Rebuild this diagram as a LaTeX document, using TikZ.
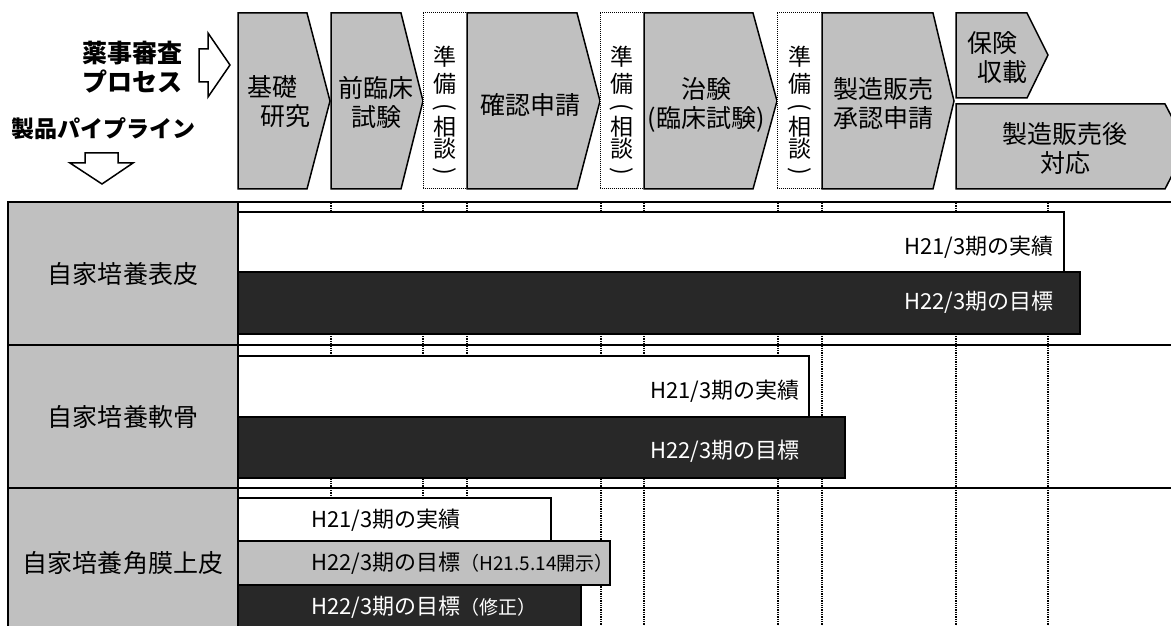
\documentclass[tikz,border=0pt]{standalone}
\usepackage{fontspec}
\usepackage{graphicx}
\setmainfont{Noto Sans CJK JP}
\definecolor{cellgray}{RGB}{192,192,192}
\definecolor{darkbar}{RGB}{40,40,40}
\newcommand{\hdfont}{\fontsize{25bp}{29bp}\selectfont}
\newcommand{\vtfont}{\fontsize{23bp}{21bp}\selectfont}
\newcommand{\barfont}{\fontsize{22bp}{24bp}\selectfont}
\newcommand{\smfont}{\fontsize{19bp}{21bp}\selectfont}
\newcommand{\vparen}[1]{\rotatebox[origin=c]{-90}{#1}}
\newcommand{\prepword}{準\\[5bp]備\\[1bp]\vparen{(}\\相\\談\\\vparen{)}}
\tikzset{
  stage/.style={draw, fill=cellgray, line width=1.5bp},
  prepbox/.style={draw, densely dotted, fill=white, line width=1bp},
  gridline/.style={densely dotted, line width=1.3bp},
  rowline/.style={line width=2bp},
  cell/.style={draw, fill=cellgray, line width=1.2bp},
  barw/.style={draw, fill=white, line width=1.3bp},
  barg/.style={draw, fill=cellgray, line width=1.3bp},
  bard/.style={draw, fill=darkbar, line width=1.3bp},
  hollow/.style={draw, fill=white, line width=1.5bp},
  txt/.style={inner sep=0pt, font=\hdfont, align=center},
  vtxt/.style={inner sep=0pt, font=\vtfont, align=center},
  btxt/.style={inner sep=0pt, font=\barfont},
}
\begin{document}
\begin{tikzpicture}[x=1bp, y=-1bp]
  \useasboundingbox (0,0) rectangle (1171,626);
  % phase grid
  \foreach \gx in {331,423,467,601,644,778,822,956,1048}
    \draw[gridline] (\gx,203) -- (\gx,626);
  \draw[rowline] (8,202) -- (1171,202);
  \draw[rowline] (8,345) -- (1171,345);
  \draw[rowline] (8,488) -- (1171,488);
  % product cells
  \draw[cell] (8,202) rectangle (238,345);
  \draw[cell] (8,345) rectangle (238,488);
  \draw[cell] (8,488) rectangle (238,632);
  \node[txt] (epi) at (123,274) {自家培養表皮};
  \node[txt] (cart) at (123,417) {自家培養軟骨};
  \node[txt] (cornea) at (123,563) {自家培養角膜上皮};
  % bars
  \draw[barw] (238,212) rectangle (1064,272);
  \draw[bard] (238,272) rectangle (1080,334);
  \draw[barw] (238,356) rectangle (809,417);
  \draw[bard] (238,417) rectangle (845,478);
  \draw[barw] (238,498) rectangle (551,541);
  \draw[barg] (238,541) rectangle (610,585);
  \draw[bard] (238,585) rectangle (581,632);
  \node[btxt, anchor=east] (epiA) at (1054,247) {H21/3期の実績};
  \node[btxt, anchor=east, text=white] (epiB) at (1054,302) {H22/3期の目標};
  \node[btxt, anchor=east] (cartA) at (800,391) {H21/3期の実績};
  \node[btxt, anchor=east, text=white] (cartB) at (800,451) {H22/3期の目標};
  \node[btxt, anchor=west] (corA) at (311,520) {H21/3期の実績};
  \node[btxt, anchor=west] (corB) at (311,563) {H22/3期の目標{\smfont （H21.5.14開示）}};
  \node[btxt, anchor=west, text=white] (corC) at (311,607) {H22/3期の目標{\smfont （修正）}};
  % process header
  \draw[stage] (238,13) -- (307,13) -- (330,101) -- (307,189) -- (238,189) -- cycle;
  \draw[stage] (331,13) -- (401,13) -- (423,101) -- (401,189) -- (331,189) -- cycle;
  \draw[prepbox] (423,13) rectangle (467,189);
  \draw[stage] (467,13) -- (577,13) -- (600,101) -- (577,189) -- (467,189) -- cycle;
  \draw[prepbox] (600,13) rectangle (644,189);
  \draw[stage] (644,13) -- (753,13) -- (777,101) -- (753,189) -- (644,189) -- cycle;
  \draw[prepbox] (777,13) rectangle (822,189);
  \draw[stage] (822,13) -- (933,13) -- (954,101) -- (933,189) -- (822,189) -- cycle;
  \draw[stage] (956,13) -- (1027,13) -- (1048,55) -- (1027,98) -- (956,98) -- cycle;
  \draw[stage] (956,104) -- (1165,104) -- (1187,146) -- (1165,189) -- (956,189) -- cycle;
  \node[txt, align=left, anchor=west] (basic) at (247,102) {基礎\\\hspace*{13bp}研究};
  \node[txt] (preclin) at (376,102) {前臨床\\試験};
  \node[vtxt] (prepA) at (445,112) {\prepword};
  \node[txt] (confirm) at (530,105) {確認申請};
  \node[vtxt] (prepB) at (622,112) {\prepword};
  \node[txt] (trial) at (706,105) {治験\\(臨床試験)};
  \node[vtxt] (prepC) at (800,112) {\prepword};
  \node[txt] (approval) at (883,104) {製造販売\\承認申請};
  \node[txt, align=left, anchor=west] (listing) at (967,58) {保険\\\hspace*{10bp}収載};
  \node[txt] (postmkt) at (1065,149) {製造販売後\\対応};
  % legend arrows
  \node[txt, font=\hdfont\bfseries] (review) at (132,67) {薬事審査\\プロセス};
  \node[txt, font=\fontsize{23bp}{27bp}\selectfont\bfseries, anchor=west] (pipeline) at (11,129) {製品パイプライン};
  \draw[hollow] (199,49) -- (208,49) -- (208,33) -- (230,65) -- (208,97) -- (208,82) -- (199,82) -- cycle;
  \draw[hollow] (85,153) -- (118,153) -- (118,163) -- (133,163) -- (102,184) -- (70,163) -- (85,163) -- cycle;
\end{tikzpicture}
\end{document}
